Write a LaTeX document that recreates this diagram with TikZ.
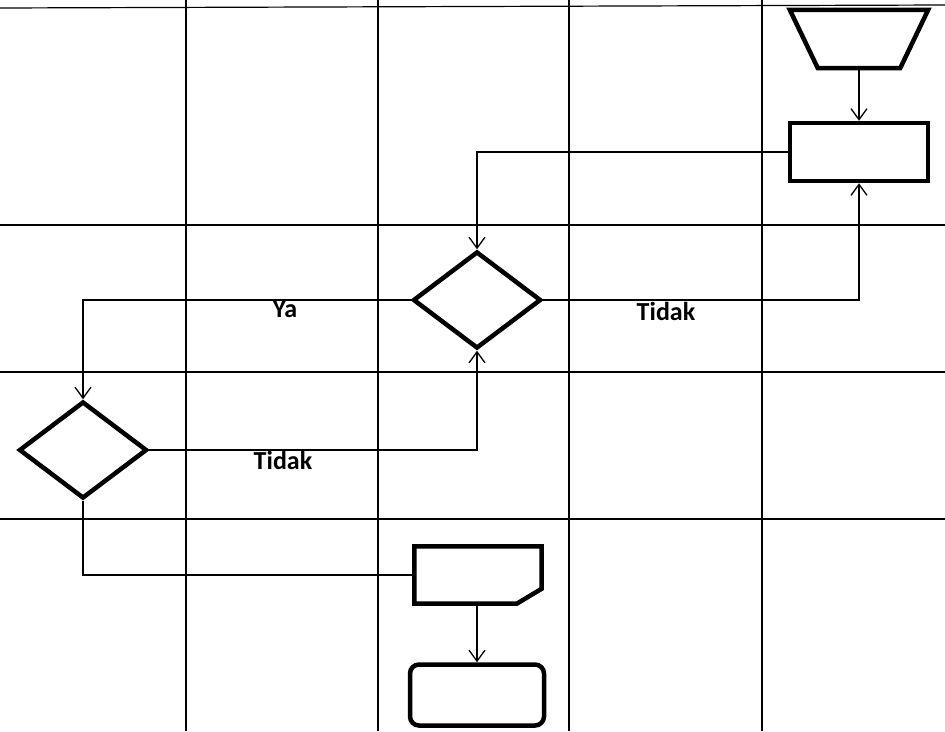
\documentclass[tikz,border=0pt]{standalone}
\usepackage{fontspec}
\setmainfont{Carlito}
\usetikzlibrary{arrows.meta, shapes.geometric}

\begin{document}
\begin{tikzpicture}[x=1pt, y=-1pt,
    lane/.style={line width=1.2pt},
    outline/.style={line width=4.5pt, line join=miter},
    box/.style={minimum width=#1, inner sep=0pt},
    shp/.style={draw, line width=4.5pt, inner sep=1pt, fill=white},
    decision/.style={shp, diamond, minimum width=128pt, minimum height=97pt},
    flow/.style={line width=1.3pt},
    arr/.style={flow, -{Straight Barb[length=11pt, width=16pt]}},
    lbl/.style={font=\fontsize{26}{30}\selectfont\bfseries, inner sep=0pt}]
  \useasboundingbox[fill=white] (0,0) rectangle (945,731);
  % swimlane grid
  \draw[lane] (0,8) -- (945,5);
  \foreach \y in {225,372,519} \draw[lane] (0,\y) -- (945,\y);
  \foreach \x in {186,378,569,762} \draw[lane] (\x,0) -- (\x,731);

  % symbols
  \node[box=138pt, minimum height=58pt] (input) at (859,39) {};
  \draw[outline] (input.north west) -- (input.north east)
    -- ([xshift=-28pt]input.south east) -- ([xshift=28pt]input.south west) -- cycle;
  \node[shp, minimum width=138pt, minimum height=58pt] (proses) at (859,152) {};
  \node[decision] (cek1) at (477,300) {};
  \node[decision] (cek2) at (83,450) {};
  \node[box=127pt, minimum height=57pt] (kartu) at (478,575) {};
  \draw[outline] (kartu.north west) -- (kartu.north east) -- ([yshift=15pt]kartu.south east)
    -- ([xshift=-25pt]kartu.south east) -- (kartu.south west) -- cycle;
  \node[shp, rounded corners=9pt, minimum width=134pt, minimum height=61pt] (selesai) at (477,695) {};

  % connectors
  \draw[arr] (input) -- (proses);
  \draw[arr] (proses.west) -| (cek1.north);
  \draw[arr] (cek1.east) -| (proses.south);
  \draw[arr] (cek1.west) -| (cek2.north);
  \draw[arr] (cek2.east) -| (cek1.south);
  \draw[flow] (cek2.south) |- (kartu.west);
  \draw[arr] (kartu.south -| selesai.north) -- (selesai.north);

  % labels
  \node[lbl] (ya) at (285,309) {Ya};
  \node[lbl] (tidak1) at (666,311) {Tidak};
  \node[lbl] (tidak2) at (283,460) {Tidak};
\end{tikzpicture}
\end{document}
